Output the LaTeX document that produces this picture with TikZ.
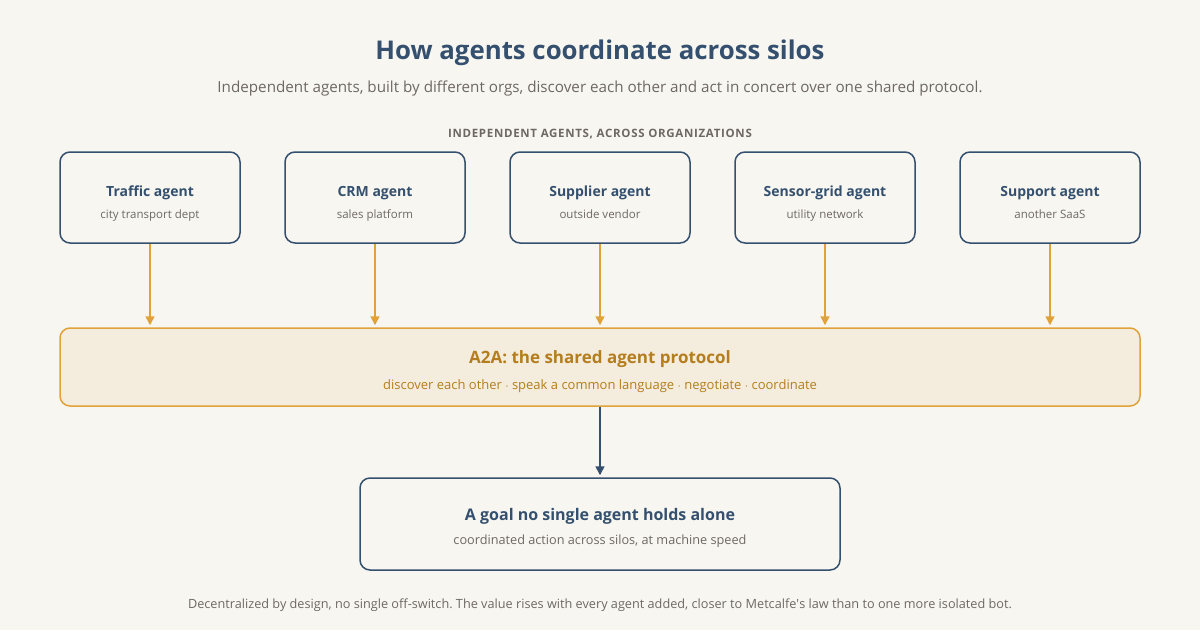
\documentclass[tikz,border=0pt]{standalone}
\usepackage{fontspec}
\setmainfont{Open Sans}
\usetikzlibrary{arrows.meta}
\frenchspacing

\definecolor{bgcol}{HTML}{F8F6F1}
\definecolor{navy}{HTML}{34506E}
\definecolor{amber}{HTML}{E1A23A}
\definecolor{amberfill}{HTML}{F4ECDC}
\definecolor{ambertext}{HTML}{B47E1E}
\definecolor{greytext}{HTML}{6E6863}

\begin{document}
\begin{tikzpicture}[x=1pt,y=-1pt,>={Triangle[length=9pt,width=9pt]}]
  \tikzset{agentbox/.style={draw=navy,line width=1.5pt,rounded corners=10pt,minimum width=180pt,minimum height=91pt,inner sep=0pt},
           boxtitle/.style={text=navy,font=\fontsize{14}{16}\selectfont\bfseries,inner sep=0pt,anchor=base},
           boxnote/.style={text=greytext,font=\fontsize{11.5}{13}\selectfont,inner sep=0pt,anchor=base},
           feed/.style={->,draw=amber,line width=1.5pt,shorten >=2pt}}
  \fill[bgcol] (0,0) rectangle (1200,630);
  \useasboundingbox (0,0) rectangle (1200,630);

  % heading
  \node[anchor=base,text=navy,font=\fontsize{25.8}{30}\selectfont\bfseries] (title) at (600,59) {How agents coordinate across silos};
  \node[anchor=base,text=greytext,font=\fontsize{15.2}{18}\selectfont] (subtitle) at (600,92) {Independent agents, built by different orgs, discover each other and act in concert over one shared protocol.};
  \node[anchor=base,text=greytext,font=\fontsize{11.5}{14}\selectfont\bfseries\addfontfeature{LetterSpace=6}] (section) at (600,137) {INDEPENDENT AGENTS, ACROSS ORGANIZATIONS};

  % shared protocol
  \node[agentbox,draw=amber,fill=amberfill,minimum width=1080pt,minimum height=78pt] (a2a) at (600,367) {};
  \node[boxtitle,text=ambertext,font=\fontsize{17}{20}\selectfont\bfseries] (a2a-t) at (600,363) {A2A: the shared agent protocol};
  \node[boxnote,text=ambertext,font=\fontsize{13}{15}\selectfont] (a2a-n) at (600,389) {discover each other $\cdot$ speak a common language $\cdot$ negotiate $\cdot$ coordinate};

  % the agents
  \foreach \x/\name/\lbl/\org in {150/traffic/Traffic agent/city transport dept,
                                  375/crm/CRM agent/sales platform,
                                  600/supplier/Supplier agent/outside vendor,
                                  825/sensor/Sensor-grid agent/utility network,
                                  1050/support/Support agent/another SaaS}
  {
    \node[agentbox] (\name) at (\x,197.5) {};
    \node[boxtitle] (\name-t) at (\x,196) {\lbl};
    \node[boxnote] (\name-n) at (\x,218) {\org};
    \draw[feed] (\name) -- (\name |- a2a.north);
  }

  % outcome
  \node[agentbox,minimum width=480pt,minimum height=92pt] (goal) at (600,524) {};
  \node[boxtitle,font=\fontsize{16}{19}\selectfont\bfseries] (goal-t) at (600,520) {A goal no single agent holds alone};
  \node[boxnote,font=\fontsize{12.7}{14}\selectfont] (goal-n) at (600,544) {coordinated action across silos, at machine speed};
  \draw[->,draw=navy,line width=1.5pt,shorten >=2pt] (a2a) -- (goal);

  \node[anchor=base,text=greytext,font=\fontsize{12.7}{14}\selectfont] (footer) at (600,608) {Decentralized by design, no single off-switch. The value rises with every agent added, closer to Metcalfe\textquotesingle s law than to one more isolated bot.};
\end{tikzpicture}
\end{document}
